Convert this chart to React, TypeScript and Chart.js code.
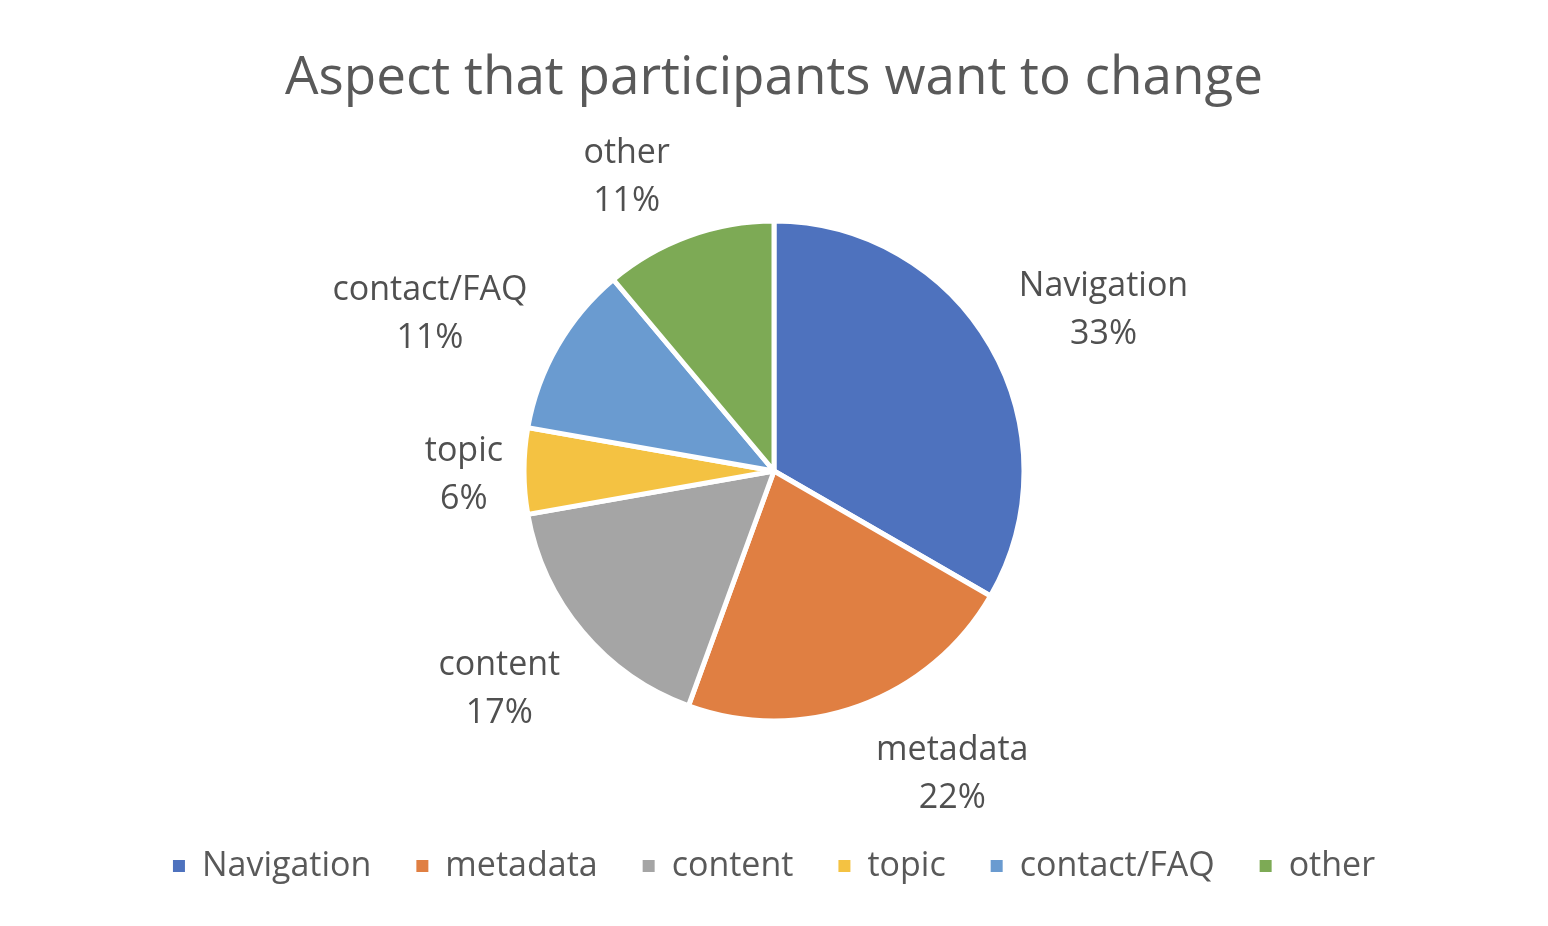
import React, { useEffect, useRef } from "react";
import { Chart, registerables } from "chart.js";

Chart.register(...registerables);

// ---- data ----
const titleText = "Aspect that participants want to change";
const categories = ["Navigation", "metadata", "content", "topic", "contact/FAQ", "other"];
const counts = [6, 4, 3, 1, 2, 2];

// ---- style ----
const sliceColors = ["#4E72BE", "#E07F42", "#A5A5A5", "#F4C242", "#6A9BD0", "#7DAA55"];
const labelAngleShift = [3.5, -10.8, 2, 0, -5, -6.3]; // degrees, label placement nudge
const FONT = '"Open Sans", "DejaVu Sans", sans-serif';
const TITLE_SIZE = 53;
const LABEL_SIZE = 34;
const LABEL_LINE = 48;
const LABEL_GAP = 21;
const LABEL_DY = 4;
const TEXT_COLOR = "#595959";
const LABEL_COLOR = "#505050";

const total = counts.reduce((a, b) => a + b, 0);
const percentLabels = counts.map((c) => `${Math.round((c / total) * 100)}%`);

const outLabels = {
  id: "outLabels",
  afterDatasetsDraw(chart: any) {
    const meta = chart.getDatasetMeta(0);
    const ctx = chart.ctx as CanvasRenderingContext2D;
    ctx.save();
    ctx.font = `${LABEL_SIZE}px ${FONT}`;
    ctx.fillStyle = LABEL_COLOR;
    ctx.textAlign = "center";
    ctx.textBaseline = "middle";
    meta.data.forEach((arc: any, i: number) => {
      const p = arc.getProps(["x", "y", "startAngle", "endAngle", "outerRadius"], true);
      const mid = (p.startAngle + p.endAngle) / 2 + (labelAngleShift[i] * Math.PI) / 180;
      const lines = [categories[i], percentLabels[i]];
      const w = Math.max(...lines.map((l) => ctx.measureText(l).width));
      const hw = w / 2;
      const hh = LABEL_LINE;
      const ux = Math.cos(mid);
      const uy = Math.sin(mid);
      const R = p.outerRadius + LABEL_GAP;
      let lo = 0;
      let hi = 1200;
      for (let k = 0; k < 60; k++) {
        const t = (lo + hi) / 2;
        const nx = Math.max(Math.abs(ux * t) - hw, 0);
        const ny = Math.max(Math.abs(uy * t) - hh, 0);
        if (Math.hypot(nx, ny) < R) lo = t;
        else hi = t;
      }
      const cx = p.x + ux * hi;
      const cy = p.y + uy * hi + LABEL_DY;
      ctx.fillText(lines[0], cx, cy - LABEL_LINE / 2);
      ctx.fillText(lines[1], cx, cy + LABEL_LINE / 2);
    });
    ctx.restore();
  },
};

export default function App() {
  const ref = useRef<HTMLCanvasElement>(null);
  useEffect(() => {
    if (!ref.current) return;
    Chart.defaults.font.family = FONT;
    const chart = new Chart(ref.current, {
      type: "pie",
      data: {
        labels: categories,
        datasets: [
          {
            data: counts,
            backgroundColor: sliceColors,
            borderColor: "#FFFFFF",
            borderWidth: 5,
          },
        ],
      },
      options: {
        animation: false,
        responsive: false,
        radius: 250,
        layout: { padding: { top: 0, bottom: 33, left: 0, right: 0 } },
        plugins: {
          title: {
            display: true,
            text: titleText,
            color: TEXT_COLOR,
            font: { size: TITLE_SIZE, weight: "normal", family: FONT, lineHeight: 1.2 },
            padding: { top: 47.2, bottom: 27.2 },
          },
          legend: {
            display: true,
            position: "bottom",
            labels: {
              color: TEXT_COLOR,
              font: { size: LABEL_SIZE, family: FONT },
              boxWidth: 12,
              boxHeight: 12,
              padding: 45,
              generateLabels: (c: any) => {
                const items = (Chart as any).overrides.pie.plugins.legend.labels.generateLabels(c);
                return items.map((it: any) => ({ ...it, lineWidth: 0, strokeStyle: it.fillStyle }));
              },
            },
          },
          tooltip: { enabled: false },
        },
      } as any,
      plugins: [outLabels],
    });
    return () => chart.destroy();
  }, []);
  return (
    <div style={{ position: "absolute", left: 0, top: 0, width: 1548, height: 926, background: "#fff" }}>
      <canvas ref={ref} width={1548} height={926} style={{ display: "block" }} />
    </div>
  );
}
